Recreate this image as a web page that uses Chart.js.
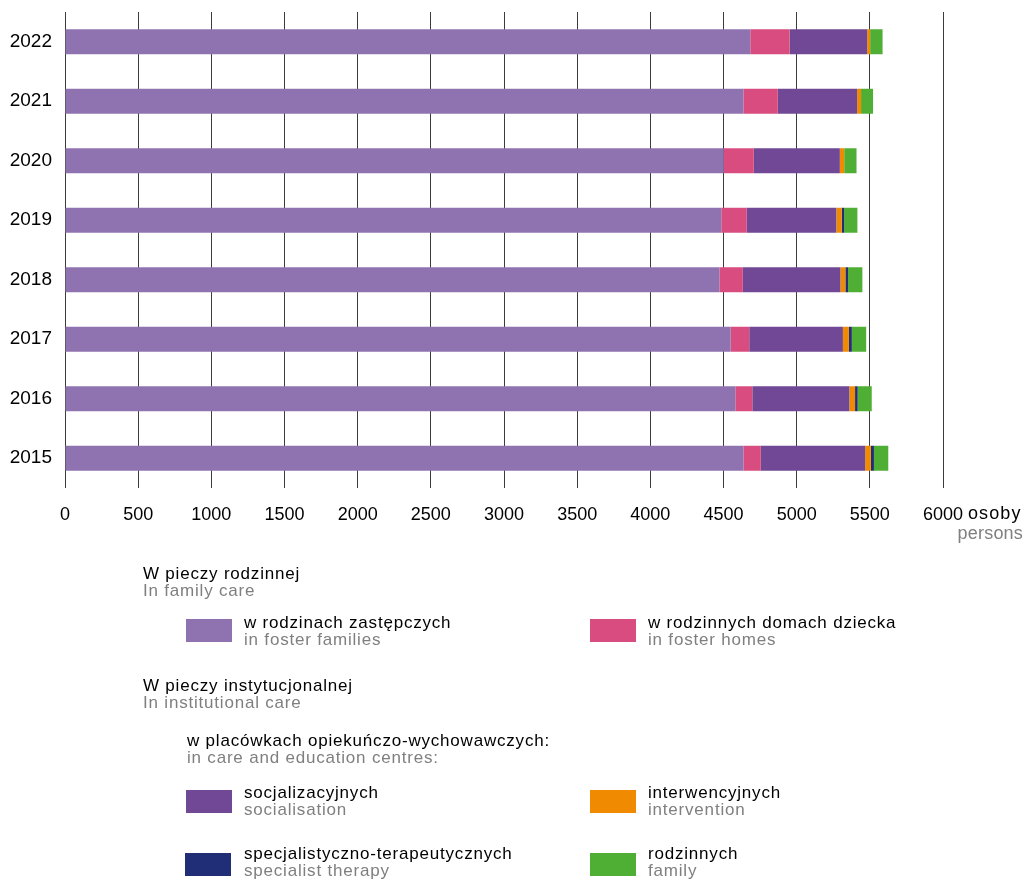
<!DOCTYPE html>
<html>
<head>
<meta charset="utf-8">
<script src="https://cdn.jsdelivr.net/npm/chart.js@4.4.1/dist/chart.umd.min.js"></script>
<style>
  html, body { margin: 0; padding: 0; background: #fff; }
  #wrap { position: relative; width: 1026px; height: 881px; overflow: hidden; font-family: "Liberation Sans", Arial, sans-serif; }
  #c { position: absolute; left: 0; top: 0; }
  .t { position: absolute; font-size: 17px; line-height: 17px; letter-spacing: 0.8px; color: #000; white-space: nowrap; }
  .t .en { color: #7f7f7f; display: block; }
  .sw { position: absolute; width: 46px; height: 23px; }
  .unit { position: absolute; font-size: 18px; line-height: 18px; white-space: nowrap; letter-spacing: 1.1px; }
</style>
</head>
<body>
<div id="wrap">
  <canvas id="c" width="1026" height="881"></canvas>

  <div class="unit" style="left:968px; top:504px; color:#000;">osoby</div>
  <div class="unit" style="right:3px; top:524px; color:#7f7f7f; letter-spacing:0.2px;">persons</div>

  <div class="t" style="left:143px; top:565px;">W pieczy rodzinnej<span class="en">In family care</span></div>

  <div class="sw" style="left:186px; top:619px; background:#8f73b1;"></div>
  <div class="t" style="left:244px; top:614px;">w rodzinach zastępczych<span class="en">in foster families</span></div>

  <div class="sw" style="left:590px; top:619px; background:#d84c7f;"></div>
  <div class="t" style="left:648px; top:614px;">w rodzinnych domach dziecka<span class="en">in foster homes</span></div>

  <div class="t" style="left:143px; top:677px;">W pieczy instytucjonalnej<span class="en">In institutional care</span></div>

  <div class="t" style="left:187px; top:732px;">w placówkach opiekuńczo-wychowawczych:<span class="en">in care and education centres:</span></div>

  <div class="sw" style="left:186px; top:790px; background:#704895;"></div>
  <div class="t" style="left:244px; top:784px;">socjalizacyjnych<span class="en">socialisation</span></div>

  <div class="sw" style="left:590px; top:790px; background:#f08a00;"></div>
  <div class="t" style="left:648px; top:784px;">interwencyjnych<span class="en">intervention</span></div>

  <div class="sw" style="left:185px; top:853px; background:#202e78;"></div>
  <div class="t" style="left:244px; top:845px;">specjalistyczno-terapeutycznych<span class="en">specialist therapy</span></div>

  <div class="sw" style="left:590px; top:853px; background:#4fae34;"></div>
  <div class="t" style="left:648px; top:845px;">rodzinnych<span class="en">family</span></div>
</div>

<script>
// Categories (top to bottom)
const years = ['2022', '2021', '2020', '2019', '2018', '2017', '2016', '2015'];

// Series values (persons)
const fosterFamilies = [4683, 4636, 4502, 4485, 4472, 4549, 4581, 4636];
const fosterHomes    = [269, 235, 205, 174, 160, 127, 116, 119];
const socialisation  = [530, 542, 588, 612, 667, 640, 663, 713];
const intervention   = [20, 27, 30, 37, 34, 41, 39, 39];
const specialist     = [0, 0, 0, 16, 18, 20, 18, 21];
const familyCentres  = [85, 82, 84, 91, 98, 98, 96, 98];

// Axis ticks
const xTicks = [0, 500, 1000, 1500, 2000, 2500, 3000, 3500, 4000, 4500, 5000, 5500, 6000];
const xTickLabels = ['0', '500', '1000', '1500', '2000', '2500', '3000', '3500', '4000', '4500', '5000', '5500', '6000'];

const seriesNames = ['w rodzinach zastępczych', 'w rodzinnych domach dziecka', 'socjalizacyjnych',
                     'interwencyjnych', 'specjalistyczno-terapeutycznych', 'rodzinnych'];
const seriesData = [fosterFamilies, fosterHomes, socialisation, intervention, specialist, familyCentres];
const seriesColors = ['#8f73b1', '#d84c7f', '#704895', '#f08a00', '#202e78', '#4fae34'];

const datasets = seriesData.map((d, i) => ({
  label: seriesNames[i],
  data: d,
  backgroundColor: seriesColors[i],
  borderWidth: 0,
  barPercentage: 0.42,
  categoryPercentage: 1.0
}));

new Chart(document.getElementById('c'), {
  type: 'bar',
  data: { labels: years, datasets: datasets },
  options: {
    indexAxis: 'y',
    responsive: false,
    animation: false,
    layout: { padding: { top: 12, right: 83, left: 0, bottom: 353 } },
    plugins: { legend: { display: false }, tooltip: { enabled: false } },
    scales: {
      x: {
        stacked: true,
        min: 0,
        max: 6000,
        afterBuildTicks: (scale) => { scale.ticks = xTicks.map(v => ({ value: v })); },
        afterFit: (scale) => { scale.height = 40; scale.paddingLeft = 0; scale.paddingRight = 0; },
        grid: { color: '#3c3c3c', lineWidth: 1, drawTicks: false },
        border: { display: false },
        ticks: {
          color: '#000',
          padding: 16,
          maxRotation: 0,
          autoSkip: false,
          callback: (value, index) => xTickLabels[index],
          font: { family: "'Liberation Sans', Arial, sans-serif", size: 18 }
        }
      },
      y: {
        stacked: true,
        afterFit: (scale) => { scale.width = 65; scale.paddingTop = 0; scale.paddingBottom = 0; },
        grid: { display: false, drawTicks: false },
        border: { display: false },
        ticks: {
          color: '#000',
          padding: 13,
          font: { family: "'Liberation Sans', Arial, sans-serif", size: 19 }
        }
      }
    }
  }
});
</script>
</body>
</html>
